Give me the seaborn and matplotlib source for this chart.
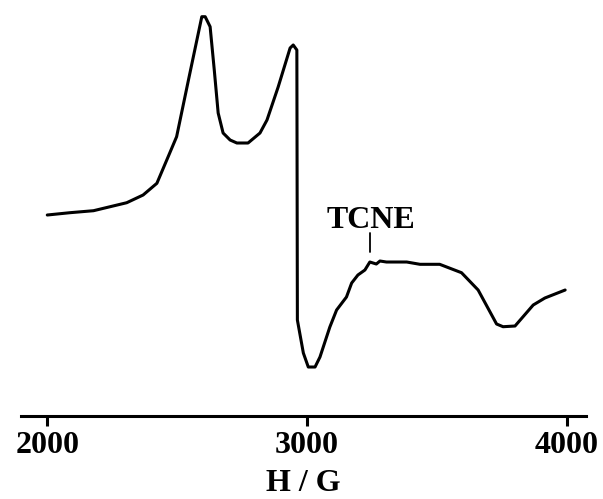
import numpy as np
import pandas as pd
import matplotlib
matplotlib.use("Agg")
import matplotlib.pyplot as plt
import seaborn as sns

# Field (G) and EPR signal (arbitrary units)
field = [2000, 2087, 2178, 2306, 2369, 2422, 2465, 2498, 2546, 2595, 2608, 2627,
         2643, 2658, 2677, 2704, 2730, 2773, 2819, 2846, 2889, 2935, 2947, 2961,
         2963, 2986, 3005, 3031, 3050, 3088, 3114, 3152, 3172, 3196, 3223, 3242,
         3267, 3281, 3306, 3384, 3435, 3511, 3595, 3659, 3730, 3755, 3801, 3871,
         3916, 3994]
signal = [45, 47.3, 49.3, 57.3, 65, 76.7, 103, 123.3, 183, 243.3, 243.3, 233.3,
          190, 147, 127, 120, 117, 117, 127, 140, 173, 212, 215, 210,
          -60, -93, -107, -107, -97, -67, -50, -37, -23, -15, -10, -2,
          -4, -1, -2, -2, -4.3, -4.3, -12.7, -30, -64, -66.7, -66, -45,
          -38, -30]
tick_values = [2000, 3000, 4000]
tick_labels = ["2000", "3000", "4000"]
annot_text = "TCNE"
annot_x = 3242

df = pd.DataFrame({"field": field, "signal": signal})

sns.set_style("white")
plt.rcParams["font.family"] = ["Liberation Serif", "DejaVu Serif"]
plt.rcParams["font.weight"] = "bold"
plt.rcParams["text.color"] = "black"
plt.rcParams["axes.labelcolor"] = "black"
plt.rcParams["xtick.color"] = "black"

fig = plt.figure(figsize=(6.03, 4.99), dpi=100)
ax = fig.add_axes([0.0343, 0.1669, 0.9375, 0.8331])

sns.lineplot(data=df, x="field", y="signal", ax=ax, color="black",
             linewidth=2.2, sort=False)

ax.set_xlim(1897.6, 4074.3)
ax.set_ylim(-155.7, 260)
ax.set_yticks([])
ax.set_xticks(tick_values)
ax.set_xticklabels(tick_labels, fontsize=23, fontweight="bold", color="black")
ax.tick_params(axis="x", direction="out", length=7.2, width=2.2, pad=3.6,
               bottom=True, colors="black")
for s in ["left", "top", "right"]:
    ax.spines[s].set_visible(False)
ax.spines["bottom"].set_linewidth(2.2)
ax.spines["bottom"].set_color("black")
ax.set_xlabel("H / G", fontsize=23, fontweight="bold", labelpad=7, color="black")
ax.set_ylabel("")

ax.plot([annot_x, annot_x], [8, 27], color="black", linewidth=1.3)
ax.text(annot_x + 6, 32, annot_text, ha="center", va="baseline",
        fontsize=23, fontweight="bold", color="black")

fig.savefig("out.png", dpi=100)
